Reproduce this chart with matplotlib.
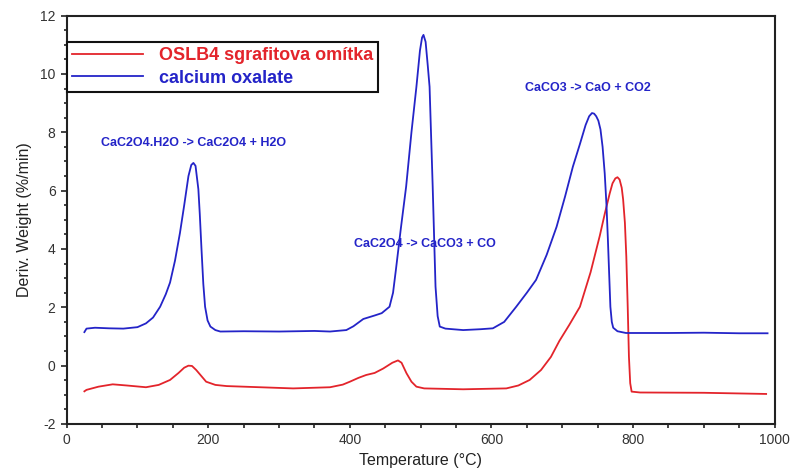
import matplotlib
matplotlib.use("Agg")
import matplotlib.pyplot as plt
from matplotlib.ticker import MultipleLocator

# DTG curves: temperature (°C) vs derivative weight (%/min)
oxalate_t = [25, 28, 40, 60, 80, 100, 112, 122, 132, 140, 146, 153, 160, 166, 172,
             176, 179, 182, 186, 188, 190.5, 193, 195.5, 199, 203, 210, 217, 250,
             300, 350, 372, 395, 405, 419, 435, 445, 456, 461, 465, 472, 479.5, 487,
             494, 499, 502, 504, 507, 510, 512.6, 517, 521, 524, 527, 535, 560, 585,
             602, 618, 635, 650, 663, 678, 692, 704, 715, 725, 733, 738, 742, 745,
             748, 751, 754, 757, 760, 762.5, 764.5, 766.5, 768, 770, 772, 778, 790,
             850, 900, 950, 990]
oxalate_dw = [1.15, 1.27, 1.30, 1.28, 1.27, 1.32, 1.45, 1.65, 2.02, 2.45, 2.85, 3.60,
              4.55, 5.50, 6.50, 6.88, 6.95, 6.85, 6.05, 5.20, 3.96, 2.80, 2.02, 1.55,
              1.34, 1.22, 1.17, 1.18, 1.17, 1.19, 1.17, 1.22, 1.35, 1.60, 1.72, 1.80,
              2.02, 2.50, 3.28, 4.70, 6.14, 8.00, 9.56, 10.80, 11.25, 11.34, 11.10,
              10.30, 9.56, 6.14, 2.71, 1.70, 1.34, 1.27, 1.22, 1.25, 1.28, 1.50, 2.02,
              2.50, 2.94, 3.80, 4.76, 5.80, 6.82, 7.60, 8.25, 8.55, 8.66, 8.64, 8.55,
              8.40, 8.10, 7.50, 6.59, 5.50, 4.31, 3.00, 2.02, 1.50, 1.30, 1.18, 1.12,
              1.12, 1.13, 1.11, 1.11]

oslb4_t = [25, 28, 45, 65, 85, 112, 130, 146, 158, 166, 172, 177, 183, 190, 197, 210,
           226, 273, 320, 372, 390, 400, 412, 423, 435, 447, 460, 468, 473, 480, 487,
           494, 505, 560, 621, 638, 654, 670, 684, 696, 710, 725, 740, 753, 760, 767,
           771, 775, 778, 781, 784, 786, 788.5, 790.5, 792.5, 794.2, 796, 798, 810,
           900, 988]
oslb4_dw = [-0.88, -0.83, -0.72, -0.64, -0.68, -0.74, -0.66, -0.49, -0.25, -0.07, 0.00,
            -0.01, -0.15, -0.35, -0.55, -0.66, -0.70, -0.74, -0.78, -0.74, -0.65,
            -0.55, -0.42, -0.32, -0.25, -0.10, 0.10, 0.18, 0.10, -0.26, -0.55, -0.72,
            -0.78, -0.81, -0.78, -0.68, -0.49, -0.15, 0.30, 0.85, 1.40, 2.02, 3.20,
            4.45, 5.20, 5.90, 6.25, 6.42, 6.46, 6.38, 6.10, 5.70, 4.90, 3.74, 2.00,
            0.31, -0.60, -0.89, -0.92, -0.93, -0.97]

series_labels = ["OSLB4 sgrafitova omítka", "calcium oxalate"]

# Reaction labels: (text, temperature, value)
reactions = [("CaC2O4.H2O -> CaC2O4 + H2O", 178.7, 7.62),
             ("CaC2O4 -> CaCO3 + CO", 505.6, 4.17),
             ("CaCO3 -> CaO + CO2", 736.6, 9.51)]

RED = "#e3242b"
BLUE = "#2424c8"
plt.rcParams["font.family"] = ["Liberation Sans", "DejaVu Sans"]
plt.rcParams["axes.unicode_minus"] = False

fig = plt.figure(figsize=(7.91, 4.71), dpi=100)
ax = fig.add_axes([0.0843, 0.0998, 0.895, 0.867])

ax.plot(oslb4_t, oslb4_dw, color=RED, lw=1.3, label=series_labels[0])
ax.plot(oxalate_t, oxalate_dw, color=BLUE, lw=1.3, label=series_labels[1])

for text, t, v in reactions:
    ax.text(t, v, text, color=BLUE, fontsize=9, fontweight="bold",
            ha="center", va="center")

ax.set_xlim(0, 1000)
ax.set_ylim(-2, 12)
ax.xaxis.set_major_locator(MultipleLocator(200))
ax.xaxis.set_minor_locator(MultipleLocator(50))
ax.yaxis.set_major_locator(MultipleLocator(2))
ax.yaxis.set_minor_locator(MultipleLocator(0.5))
ax.tick_params(axis="x", which="both", direction="out", length=3, width=1.2,
               labelsize=10, labelcolor="#333333", color="#222222")
ax.tick_params(axis="y", which="major", direction="out", length=4.5, width=1.2,
               labelsize=10, labelcolor="#333333", color="#222222")
ax.tick_params(axis="y", which="minor", direction="out", length=2.5, width=1.2,
               color="#222222")
for s in ax.spines.values():
    s.set_linewidth(1.5)
    s.set_color("#222222")

ax.set_xlabel("Temperature (°C)", fontsize=11.5, color="#222222", labelpad=4)
ax.set_ylabel("Deriv. Weight (%/min)", fontsize=11.5, color="#222222", labelpad=6)

leg = ax.legend(loc="upper left", bbox_to_anchor=(0.0, 0.936), borderaxespad=0,
                frameon=True, fancybox=False, edgecolor="#111111",
                prop={"weight": "bold", "size": 13}, labelcolor="linecolor",
                handlelength=3.9, handletextpad=0.9, labelspacing=0.3,
                borderpad=0.3)
leg.get_frame().set_linewidth(1.5)
leg.get_frame().set_alpha(1)

fig.savefig("out.png", dpi=100)
